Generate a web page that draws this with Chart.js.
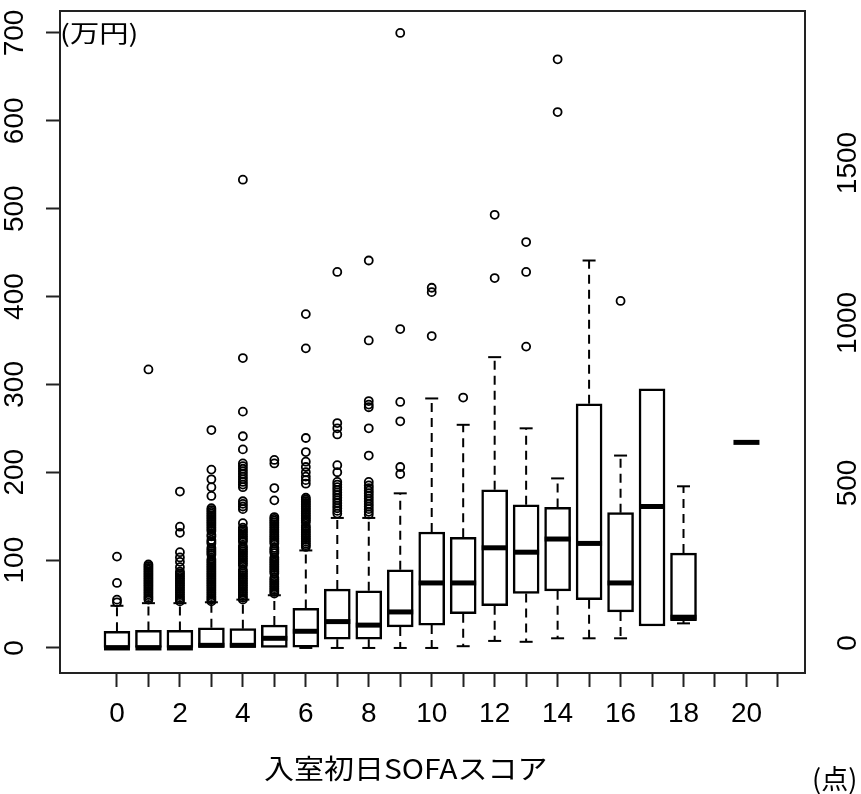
<!DOCTYPE html>
<html>
<head>
<meta charset="utf-8">
<script src="https://cdn.jsdelivr.net/npm/chart.js@4.4.0/dist/chart.umd.min.js"></script>
<style>
  body { margin: 0; background: #fff; }
  #wrap { position: relative; width: 861px; height: 794px; overflow: hidden; }
  .txt { position: absolute; font-family: "Noto Sans CJK JP", sans-serif; color: #000; line-height: 1; white-space: nowrap; }
  #unitY { left: 60px; top: 20px; font-size: 24px; transform: scaleX(1.22); transform-origin: left top; }
  #xTitle { left: 264px; top: 754px; font-size: 27px; transform: scaleX(1.11); transform-origin: left top; }
  #unitX { left: 812px; top: 764px; font-size: 27px; }
</style>
</head>
<body>
<div id="wrap">
  <canvas id="chart" width="861" height="794"></canvas>
  <div class="txt" id="unitY">(万円)</div>
  <div class="txt" id="xTitle">入室初日SOFAスコア</div>
  <div class="txt" id="unitX">(点)</div>
</div>
<script>
// SOFA score groups (19 has no patients)
const scores = [0, 1, 2, 3, 4, 5, 6, 7, 8, 9, 10, 11, 12, 13, 14, 15, 16, 17, 18, 19, 20];
const lowWhisker = [0, 0, 0, 0, 0, 0, 0, 0, 0, 0, 0, 2, 8, 7, 11, 11, 11, 25, 28, null, 234];
const q1 = [0, 0, 0, 0, 0, 0, 1, 10, 10, 24, 26, 39, 48, 62, 65, 55, 41, 25, 31, null, 234];
const median = [0, 0, 0, 3, 3, 11, 19, 30, 26, 41, 74, 74, 114, 109, 124, 119, 74, 161, 35, null, 234];
const q3 = [19, 20, 20, 23, 22, 26, 45, 67, 65, 89, 132, 126, 180, 163, 160, 278, 154, 295, 108, null, 234];
const highWhisker = [48, 51, 51, 52, 55, 60, 111, 148, 148, 176, 284, 254, 331, 250, 193, 441, 219, 295, 184, null, 234];
// outlying costs per group (dense runs listed point by point)
const outliers = [
  [52, 55, 74, 104],
  [55, 57, 59, 61, 63, 65, 67, 69, 71, 73, 75, 77, 79, 81, 83, 85, 87, 89, 91, 93, 95, 317],
  [53, 55, 57, 59, 61, 63, 65, 67, 69, 71, 73, 75, 77, 79, 81, 83, 85, 87, 92, 98, 103, 109, 131, 138, 178],
  [53, 55, 57, 59, 61, 63, 65, 67, 69, 71, 73, 75, 77, 79, 81, 83, 85, 87, 89, 91, 93, 95, 97, 99, 101,
   106, 108, 110, 112, 114, 119, 121, 123, 127, 129, 133, 135, 137, 139, 141, 143, 145, 147, 149, 151,
   153, 155, 157, 159, 173, 183, 192, 203, 248],
  [55, 57, 59, 61, 63, 65, 67, 69, 71, 73, 75, 77, 79, 81, 83, 85, 87, 89, 94, 96, 98, 100, 102, 104,
   106, 108, 110, 112, 114, 116, 121, 123, 125, 127, 129, 131, 133, 135, 137, 142, 158, 161, 164, 167,
   183, 186, 189, 192, 195, 198, 201, 204, 207, 210, 226, 241, 269, 330, 533],
  [62, 64, 66, 68, 70, 72, 74, 76, 78, 80, 85, 87, 89, 91, 93, 95, 97, 99, 101, 103, 108, 110, 112, 114,
   119, 121, 123, 125, 127, 129, 131, 133, 135, 137, 139, 141, 143, 145, 147, 149, 168, 182, 210, 214],
  [115, 117, 119, 121, 123, 125, 127, 129, 131, 133, 135, 137, 139, 143, 145, 147, 149, 151, 153, 155,
   157, 159, 161, 163, 165, 167, 169, 171, 187, 191, 195, 200, 206, 212, 223, 239, 341, 380],
  [153, 156, 159, 162, 165, 168, 171, 174, 177, 180, 183, 186, 189, 200, 208, 243, 250, 256, 428],
  [152, 155, 158, 161, 164, 167, 170, 173, 176, 179, 182, 185, 189, 219, 250, 274, 277, 281, 350, 441],
  [198, 206, 258, 280, 363, 700],
  [355, 405, 410],
  [285],
  [421, 493],
  [343, 428, 462],
  [610, 670],
  [],
  [395],
  [],
  [],
  [],
  []
];
const xTicks = [0, 1, 2, 3, 4, 5, 6, 7, 8, 9, 10, 11, 12, 13, 14, 15, 16, 17, 18, 19, 20, 21];
const yTicks = [0, 100, 200, 300, 400, 500, 600, 700];
const y2Ticks = [0, 500, 1000, 1500];

const upperLines = [], lowerLines = [], caps = [], boxes = [], medians = [], points = [];
scores.forEach((s, i) => {
  if (q1[i] === null) return;
  boxes.push({ x: s, y: [q1[i], q3[i]] });
  medians.push({ x: s, y: median[i] });
  if (highWhisker[i] > q3[i]) {
    upperLines.push({ x: s, y: q3[i] }, { x: s, y: highWhisker[i] }, { x: s, y: null });
    caps.push({ x: s, y: highWhisker[i] });
  }
  if (lowWhisker[i] < q1[i]) {
    lowerLines.push({ x: s, y: q1[i] }, { x: s, y: lowWhisker[i] }, { x: s, y: null });
    caps.push({ x: s, y: lowWhisker[i] });
  }
  outliers[i].forEach(v => points.push({ x: s, y: v }));
});

const tickFont = { family: '"Liberation Sans", Arial, sans-serif', size: 28 };

const frame = {
  id: 'frame',
  afterDatasetsDraw(chart) {
    const a = chart.chartArea, ctx = chart.ctx;
    ctx.save();
    ctx.strokeStyle = '#222';
    ctx.lineWidth = 2;
    ctx.strokeRect(a.left, a.top, a.right - a.left, a.bottom - a.top);
    ctx.restore();
  }
};

const whisker = {
  type: 'line', borderColor: '#000', borderWidth: 2, borderDash: [9, 6],
  pointRadius: 0, spanGaps: false, order: 5
};

new Chart(document.getElementById('chart'), {
  type: 'bar',
  data: {
    datasets: [
      Object.assign({ data: upperLines }, whisker),
      Object.assign({ data: lowerLines }, whisker),
      {
        type: 'scatter', data: caps, pointStyle: 'line', pointRadius: 6.5,
        pointBorderWidth: 2, borderColor: '#000', order: 4
      },
      {
        type: 'bar', data: boxes, barThickness: 26, backgroundColor: '#fff',
        borderColor: '#000', borderWidth: 2.5, borderSkipped: false, order: 3
      },
      {
        type: 'scatter', data: medians, pointStyle: 'line', pointRadius: 13,
        pointBorderWidth: 5, borderColor: '#000', order: 2
      },
      {
        type: 'scatter', data: points, pointStyle: 'circle', pointRadius: 4,
        pointBorderWidth: 1.8, borderColor: '#000', backgroundColor: 'rgba(0,0,0,0)', order: 1
      }
    ]
  },
  options: {
    responsive: false,
    animation: false,
    layout: { autoPadding: false, padding: { top: 11, left: 0, right: 0, bottom: 0 } },
    plugins: { legend: { display: false }, tooltip: { enabled: false } },
    scales: {
      x: {
        type: 'linear', min: -1.81, max: 21.86, offset: false,
        afterBuildTicks: (s) => { s.ticks = xTicks.map(v => ({ value: v })); },
        afterFit: (s) => { s.height = 121; s.paddingLeft = 0; s.paddingRight = 0; },
        ticks: {
          autoSkip: false, maxRotation: 0, padding: 10, color: '#000', font: tickFont,
          callback: (v) => (v % 2 === 0 && v <= 20 ? String(v) : '')
        },
        grid: { offset: false, drawOnChartArea: false, drawTicks: true, tickLength: 14, tickWidth: 2, tickColor: '#222' },
        border: { display: false }
      },
      y: {
        position: 'left', min: -28.5, max: 725,
        afterBuildTicks: (s) => { s.ticks = yTicks.map(v => ({ value: v })); },
        afterFit: (s) => { s.width = 60; s.paddingTop = 0; s.paddingBottom = 0; },
        ticks: {
          autoSkip: false, minRotation: 90, maxRotation: 90, crossAlign: 'center',
          padding: 7, color: '#000', font: tickFont, callback: (v) => String(v)
        },
        grid: { drawOnChartArea: false, drawTicks: true, tickLength: 14, tickWidth: 2, tickColor: '#222' },
        border: { display: false }
      },
      y2: {
        position: 'right', min: -94, max: 1975,
        afterBuildTicks: (s) => { s.ticks = y2Ticks.map(v => ({ value: v })); },
        afterFit: (s) => { s.width = 56; s.paddingTop = 0; s.paddingBottom = 0; },
        ticks: {
          autoSkip: false, minRotation: 90, maxRotation: 90, crossAlign: 'center',
          padding: 12, color: '#000', font: tickFont, callback: (v) => String(v)
        },
        grid: { display: false, drawOnChartArea: false, drawTicks: false },
        border: { display: false }
      }
    }
  },
  plugins: [frame]
});
</script>
</body>
</html>
